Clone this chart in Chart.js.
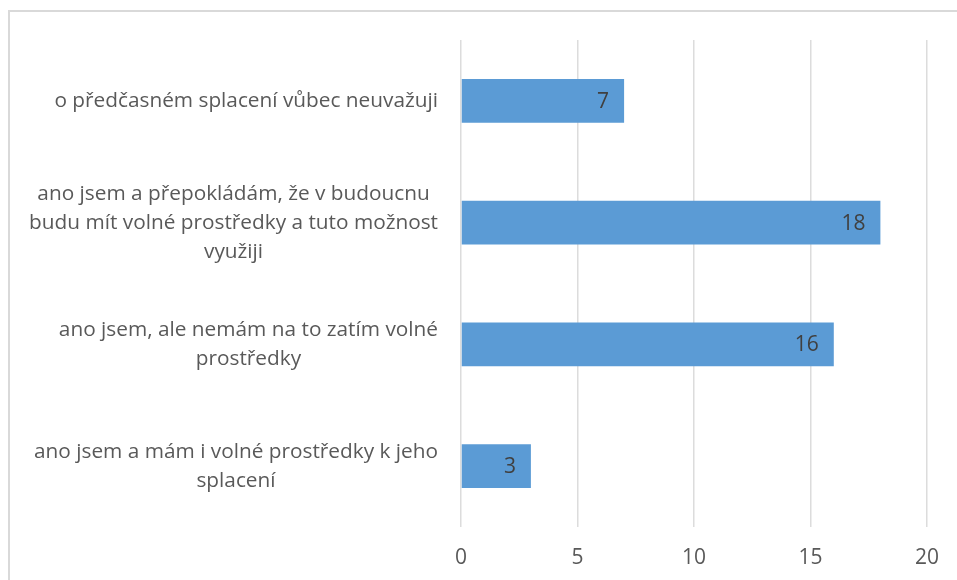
<!DOCTYPE html>
<html>
<head>
<meta charset="utf-8">
<script src="https://cdn.jsdelivr.net/npm/chart.js@4.4.1/dist/chart.umd.min.js"></script>
<style>
  html, body { margin: 0; padding: 0; background: #fff; }
  #wrap { width: 957px; height: 580px; }
</style>
</head>
<body>
<div id="wrap"><canvas id="chart" width="957" height="580"></canvas></div>
<script>
// answers, each one split into the lines it is printed on
const answers = [
    ['o předčasném splacení vůbec neuvažuji'],
    ['ano jsem a přepokládám, že v budoucnu', 'budu mít volné prostředky a tuto možnost', 'využiji'],
    ['ano jsem, ale nemám na to zatím volné', 'prostředky'],
    ['ano jsem a mám i volné prostředky k jeho', 'splacení']
];
const counts = [7, 18, 16, 3];
const axisTicks = [0, 5, 10, 15, 20];

const textGrey = '#595959';
const fontName = '"Open Sans", sans-serif';

// light frame round the whole chart
const frame = {
    id: 'frame',
    beforeDraw(chart) {
        const ctx = chart.ctx;
        ctx.save();
        ctx.strokeStyle = '#d9d9d9';
        ctx.lineWidth = 2;
        ctx.strokeRect(9, 11, chart.width + 20, chart.height + 20);
        ctx.restore();
    }
};

// category labels: block right aligned to the axis, lines centred inside it
const categoryLabels = {
    id: 'categoryLabels',
    afterDraw(chart) {
        const ctx = chart.ctx;
        const yScale = chart.scales.y;
        const right = chart.chartArea.left - 23;
        const lineH = 29;
        ctx.save();
        ctx.font = '20.8px ' + fontName;
        ctx.fillStyle = textGrey;
        ctx.textAlign = 'center';
        ctx.textBaseline = 'middle';
        answers.forEach((lines, i) => {
            const widest = Math.max(...lines.map(l => ctx.measureText(l).width));
            const cx = right - widest / 2;
            const cy = yScale.getPixelForValue(i);
            const top = cy - (lines.length - 1) * lineH / 2;
            lines.forEach((l, j) => ctx.fillText(l, cx, top + j * lineH));
        });
        ctx.restore();
    }
};

// value printed inside the end of each bar
const valueLabels = {
    id: 'valueLabels',
    afterDatasetsDraw(chart) {
        const ctx = chart.ctx;
        const meta = chart.getDatasetMeta(0);
        ctx.save();
        ctx.font = '21px ' + fontName;
        ctx.fillStyle = '#404040';
        ctx.textAlign = 'right';
        ctx.textBaseline = 'middle';
        meta.data.forEach((bar, i) => {
            ctx.fillText(String(counts[i]), bar.x - 15, bar.y + 1);
        });
        ctx.restore();
    }
};

new Chart(document.getElementById('chart'), {
    type: 'bar',
    data: {
        labels: answers.map(a => a.join(' ')),
        datasets: [{
            data: counts,
            backgroundColor: '#5b9bd5',
            categoryPercentage: 1,
            barPercentage: 0.36
        }]
    },
    options: {
        indexAxis: 'y',
        responsive: false,
        animation: false,
        devicePixelRatio: 1,
        layout: { padding: { top: 40, right: 28, bottom: 0, left: 0 } },
        plugins: {
            legend: { display: false },
            tooltip: { enabled: false }
        },
        scales: {
            x: {
                min: axisTicks[0],
                max: axisTicks[axisTicks.length - 1],
                afterBuildTicks: s => { s.ticks = axisTicks.map(v => ({ value: v })); },
                afterFit: s => { s.height = 53; },
                ticks: {
                    color: textGrey,
                    font: { family: fontName, size: 21 },
                    padding: 18
                },
                grid: { color: '#dcdcdc', lineWidth: 1.5, drawTicks: false },
                border: { display: false }
            },
            y: {
                afterFit: s => { s.width = 461; },
                ticks: { display: false },
                grid: { display: false },
                border: { display: false }
            }
        }
    },
    plugins: [frame, categoryLabels, valueLabels]
});
</script>
</body>
</html>
